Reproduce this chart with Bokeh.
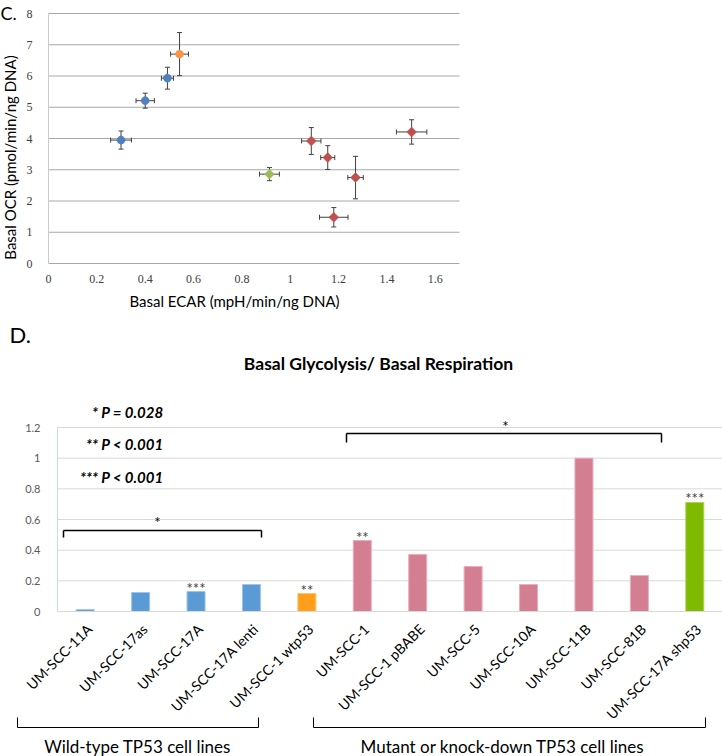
import math
from bokeh.plotting import figure
from bokeh.models import (ColumnDataSource, Whisker, Label, Arrow, FixedTicker, Range1d,
                          NumeralTickFormatter, TeeHead, LinearAxis)
from bokeh.layouts import column
from bokeh.embed import file_html
from bokeh.resources import INLINE
from bokeh.core.properties import value

# ---------------- Panel C data (scatter) ----------------
ecar = [0.300, 0.400, 0.492, 0.542, 0.914, 1.087, 1.155, 1.270, 1.180, 1.502]
ocr = [3.95, 5.21, 5.93, 6.70, 2.86, 3.92, 3.39, 2.75, 1.48, 4.21]
ecar_err = [0.043, 0.038, 0.025, 0.037, 0.041, 0.040, 0.029, 0.032, 0.059, 0.063]
ocr_err = [0.29, 0.24, 0.35, 0.69, 0.21, 0.43, 0.38, 0.68, 0.31, 0.39]
point_group = ["wt", "wt", "wt", "wtp53", "shp53", "mut", "mut", "mut", "mut", "mut"]
x_ticks_c = [0, 0.2, 0.4, 0.6, 0.8, 1.0, 1.2, 1.4, 1.6]
y_ticks_c = [0, 1, 2, 3, 4, 5, 6, 7, 8]
x_max_c, y_max_c = 1.7, 8

# ---------------- Panel D data (bars) ----------------
cell_lines = ["UM-SCC-11A", "UM-SCC-17as", "UM-SCC-17A", "UM-SCC-17A lenti",
              "UM-SCC-1 wtp53", "UM-SCC-1", "UM-SCC-1 pBABE", "UM-SCC-5",
              "UM-SCC-10A", "UM-SCC-11B", "UM-SCC-81B", "UM-SCC-17A shp53"]
ratio = [0.012, 0.124, 0.130, 0.176, 0.117, 0.463, 0.372, 0.293, 0.176, 1.000, 0.235, 0.711]
bar_group = ["wt", "wt", "wt", "wt", "wtp53", "mut", "mut", "mut", "mut", "mut", "mut", "shp53"]
significance = ["", "", "***", "", "**", "**", "", "", "", "", "", "***"]
y_ticks_d = [0, 0.2, 0.4, 0.6, 0.8, 1.0, 1.2]
y_max_d = 1.2
p_notes = ["* P = 0.028", "** P < 0.001", "*** P < 0.001"]

scatter_colors = {"wt": "#4F81BD", "wtp53": "#F79646", "shp53": "#9BBB59", "mut": "#C0504D"}
scatter_markers = {"wt": "circle", "wtp53": "circle", "shp53": "square", "mut": "square"}
scatter_sizes = {"wt": 8, "wtp53": 8, "shp53": 7, "mut": 7}
bar_fill = {"wt": "#5B9BD5", "wtp53": "#FF9E1A", "shp53": "#7FBA00", "mut": "#D47E92"}
bar_edge = {"wt": "#9DC3E6", "wtp53": "#FFC26E", "shp53": "#AAD452", "mut": "#E8AFBC"}

FONT = "Lato"
W = 722

# ====================== Panel C ======================
# the frame fills the canvas; the plot area is placed with the ranges
HC = 318
CL, CR, CT, CB = 48, 459, 13, 263          # plot-area pixels inside panel C
sxc = (CR - CL) / x_max_c
syc = (CB - CT) / y_max_c
pc = figure(width=W, height=HC, output_backend="svg", toolbar_location=None, title=None,
            x_range=Range1d(-CL / sxc, x_max_c + (W - CR) / sxc),
            y_range=Range1d(-(HC - CB) / syc, y_max_c + CT / syc),
            min_border=0)
pc.outline_line_color = None
pc.xgrid.visible = False
pc.ygrid.visible = False

gy = y_ticks_c[1:]
pc.segment(x0=[0] * len(gy), x1=[x_max_c] * len(gy), y0=gy, y1=gy,
           line_color="#A8A8A8", line_width=1, level="underlay")

src_c = ColumnDataSource(dict(
    x=ecar, y=ocr,
    xlo=[a - b for a, b in zip(ecar, ecar_err)], xhi=[a + b for a, b in zip(ecar, ecar_err)],
    ylo=[a - b for a, b in zip(ocr, ocr_err)], yhi=[a + b for a, b in zip(ocr, ocr_err)],
    color=[scatter_colors[g] for g in point_group],
    marker=[scatter_markers[g] for g in point_group],
    size=[scatter_sizes[g] for g in point_group],
))
for dim, base, lo, hi in (("height", "x", "ylo", "yhi"), ("width", "y", "xlo", "xhi")):
    pc.add_layout(Whisker(source=src_c, base=base, lower=lo, upper=hi, dimension=dim,
                          line_color="#404040", line_width=1,
                          upper_head=TeeHead(size=5, line_color="#404040", line_width=1),
                          lower_head=TeeHead(size=5, line_color="#404040", line_width=1)))
pc.scatter(x="x", y="y", source=src_c, marker="marker", size="size", angle=math.pi / 4,
           fill_color="color", line_color="color", line_width=0.5)

for ax in (pc.xaxis[0], pc.yaxis[0]):
    ax.fixed_location = 0
    ax.major_tick_line_color = None
    ax.minor_tick_line_color = None
    ax.major_label_text_font = "Liberation Serif"
    ax.major_label_text_font_size = "12px"
    ax.major_label_text_color = "#404040"
    ax.formatter = NumeralTickFormatter(format="0.[0]")
pc.xaxis.axis_line_color = "#A8A8A8"
pc.yaxis.axis_line_color = "#CCCCCC"
pc.xaxis.bounds = (0, x_max_c)
pc.yaxis.bounds = (0, y_max_c)
pc.xaxis.ticker = FixedTicker(ticks=x_ticks_c)
pc.yaxis.ticker = FixedTicker(ticks=y_ticks_c)
pc.xaxis.major_label_standoff = 5
pc.yaxis.major_label_standoff = 10

def lbl_c(wx, wy, text, size, align="left", angle=0.0, style="normal"):
    pc.add_layout(Label(x=wx, y=HC - wy, x_units="screen", y_units="screen", text=text,
                        text_font=FONT, text_font_size=size, text_align=align,
                        text_baseline="middle", angle=angle, text_font_style=style,
                        text_color="#000000"))

lbl_c(0, 12, "C.", "18px")
lbl_c(234, 300, "Basal ECAR (mpH/min/ng DNA)", "15px", "center")
lbl_c(9, 157, "Basal OCR (pmol/min/ng DNA)", "15px", "center", math.pi / 2)

# ====================== Panel D ======================
HD = 438
TOP_D = 318                                 # window y of panel D top
DL, DR, DT, DB = 57, 722, 427 - TOP_D, 611 - TOP_D
n = len(cell_lines)
sxd = (DR - DL) / n
syd = (DB - DT) / y_max_d
pd_ = figure(width=W, height=HD, output_backend="svg", toolbar_location=None, title=None,
             x_range=Range1d(-DL / sxd, n + (W - DR) / sxd),
             y_range=Range1d(-(HD - DB) / syd, y_max_d + DT / syd),
             min_border=0)
pd_.outline_line_color = None
pd_.xgrid.visible = False
pd_.ygrid.visible = False

gyd = y_ticks_d[1:]
pd_.segment(x0=[0] * len(gyd), x1=[n] * len(gyd), y0=gyd, y1=gyd,
            line_color="#D9D9D9", line_width=1, level="underlay")

xpos = [i + 0.5 for i in range(n)]
src_d = ColumnDataSource(dict(
    x=xpos, val=ratio, sig=significance,
    fill=[bar_fill[g] for g in bar_group], edge=[bar_edge[g] for g in bar_group],
))
pd_.vbar(x="x", top="val", width=0.325, source=src_d, fill_color="fill",
         line_color="edge", line_width=1)
pd_.text(x="x", y="val", text="sig", source=src_d, text_align="center",
         text_baseline="alphabetic", y_offset=-4, text_font=value(FONT),
         text_font_size="15px", text_color="#404040")

ya = pd_.yaxis[0]
ya.fixed_location = 0
ya.bounds = (0, y_max_d)
ya.ticker = FixedTicker(ticks=y_ticks_d)
ya.formatter = NumeralTickFormatter(format="0.[0]")
ya.axis_line_color = "#C9DDF0"
ya.major_tick_line_color = None
ya.minor_tick_line_color = None
ya.major_label_standoff = 11
ya.major_label_text_font = FONT
ya.major_label_text_font_size = "11px"
ya.major_label_text_color = "#595959"

xa = pd_.xaxis[0]
xa.fixed_location = 0
xa.bounds = (0, n)
xa.ticker = FixedTicker(ticks=[])
xa.axis_line_color = "#D9D9D9"
xa.major_tick_line_color = None
xa.minor_tick_line_color = None

# category labels: rotated, their ends sit a little right of each bar centre
shift = 4 / sxd
lab_pos = [x + shift for x in xpos]
lab_axis = LinearAxis(fixed_location=0, ticker=FixedTicker(ticks=lab_pos),
                      major_label_overrides={x: c for x, c in zip(lab_pos, cell_lines)},
                      axis_line_color=None, major_tick_line_color=None,
                      minor_tick_line_color=None, major_label_orientation=math.pi / 4,
                      major_label_standoff=9, major_label_text_font=FONT,
                      major_label_text_font_size="14px", major_label_text_color="#000000")
pd_.add_layout(lab_axis, "below")

def lbl(wx, wy, text, size, align="left", style="normal", color="#000000"):
    pd_.add_layout(Label(x=wx, y=HD - (wy - TOP_D), x_units="screen", y_units="screen",
                         text=text, text_font=FONT, text_font_size=size, text_align=align,
                         text_baseline="middle", text_font_style=style,
                         text_color=color))

lbl(9, 334, "D.", "22px")
lbl(378, 363, "Basal Glycolysis/ Basal Respiration", "17.5px", "center", "bold")
for yy, note in zip([411, 443, 476], p_notes):
    lbl(163, yy, note, "15px", "right", "bold italic")
lbl(157, 521, "*", "15px", "center")
lbl(505, 425, "*", "15px", "center")
lbl(137, 746, "Wild-type TP53 cell lines", "17px", "center")
lbl(502, 746, "Mutant or knock-down TP53 cell lines", "17px", "center")

def bracket(x0, x1, ybar, yend, width):
    pts = [(x0, yend), (x0, ybar), (x1, ybar), (x1, yend)]
    for (a, b), (c, d) in zip(pts[:-1], pts[1:]):
        pd_.add_layout(Arrow(x_start=a, y_start=HD - (b - TOP_D), x_end=c,
                             y_end=HD - (d - TOP_D), start_units="screen", end_units="screen",
                             start=None, end=None, line_color="#000000", line_width=width))

bracket(63, 261, 530, 537, 1.5)
bracket(346, 661, 433, 442, 1.5)
bracket(17, 258, 727, 717, 1)
bracket(313, 705, 727, 717, 1)

layout = column(pc, pd_, spacing=0)
open("out.html", "w").write(file_html(layout, INLINE))
